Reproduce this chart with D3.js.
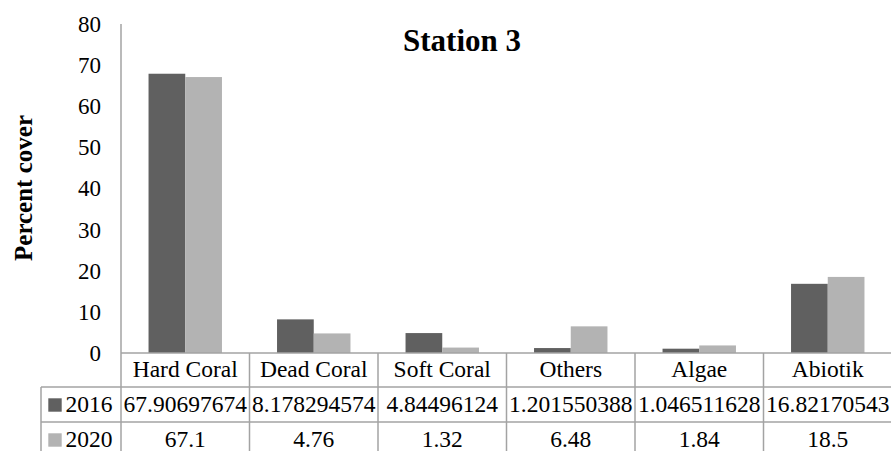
<!DOCTYPE html>
<html>
<head>
<meta charset="utf-8">
<script src="https://cdn.jsdelivr.net/npm/d3@7/dist/d3.min.js"></script>
<style>
  html, body { margin: 0; padding: 0; background: #fff; }
</style>
</head>
<body>
<svg id="chart" width="891" height="451"></svg>
<script>
const categories = ["Hard Coral", "Dead Coral", "Soft Coral", "Others", "Algae", "Abiotik"];
const seriesNames = ["2016", "2020"];
const values2016 = [67.90697674, 8.178294574, 4.84496124, 1.201550388, 1.046511628, 16.82170543];
const values2020 = [67.1, 4.76, 1.32, 6.48, 1.84, 18.5];
const yTicks = [0, 10, 20, 30, 40, 50, 60, 70, 80];
const colors = ["#606060", "#b3b3b3"];
const series = [values2016, values2020];

(function () {
const FONT = '"Liberation Serif"';
const svg = d3.select("#chart");
const W = 891, H = 451;
const pLeft = 121, pRight = 892, pTop = 24, pBottom = 353;
const legendLeft = 41;
const rowH = [353, 387, 422, 457];
const gridColor = "#a3a3a3";
const fontSize = 23.5;

const x = d3.scaleBand().domain(categories).range([pLeft, pRight]).paddingInner(0).paddingOuter(0);
const xs = d3.scaleBand().domain(seriesNames).range([0, x.bandwidth()]).paddingInner(0).paddingOuter(0.75);
const y = d3.scaleLinear().domain([0, 80]).range([pBottom, pTop]);

// bars
seriesNames.forEach((s, si) => {
  svg.append("g").selectAll("rect").data(categories).join("rect")
    .attr("x", c => x(c) + xs(s))
    .attr("y", (c, i) => y(series[si][i]))
    .attr("width", xs.bandwidth())
    .attr("height", (c, i) => y(0) - y(series[si][i]))
    .attr("fill", colors[si]);
});

// y axis
const yAxis = d3.axisLeft(y).tickValues(yTicks).tickSize(0).tickPadding(20).tickFormat(d3.format("d"));
const ya = svg.append("g").attr("transform", `translate(${pLeft},0)`).call(yAxis);
ya.attr("font-family", null).attr("font-size", null);
ya.select(".domain").remove();
ya.selectAll("text").attr("font-size", 23).style("font-family", FONT).attr("fill", "#000");
svg.append("line").attr("x1", pLeft).attr("x2", pLeft).attr("y1", pTop).attr("y2", pBottom)
  .attr("stroke", gridColor).attr("stroke-width", 1.5);

// table grid
const g = svg.append("g").attr("stroke", gridColor).attr("stroke-width", 1.5);
g.append("line").attr("x1", pLeft).attr("x2", W).attr("y1", pBottom).attr("y2", pBottom);
g.append("line").attr("x1", legendLeft).attr("x2", W).attr("y1", rowH[1]).attr("y2", rowH[1]);
g.append("line").attr("x1", legendLeft).attr("x2", W).attr("y1", rowH[2]).attr("y2", rowH[2]);
g.append("line").attr("x1", legendLeft).attr("x2", legendLeft).attr("y1", rowH[1]).attr("y2", H);
g.append("line").attr("x1", pLeft).attr("x2", pLeft).attr("y1", pBottom).attr("y2", H);
categories.forEach(c => {
  const xe = x(c) + x.bandwidth();
  if (xe < W) g.append("line").attr("x1", xe).attr("x2", xe).attr("y1", pBottom).attr("y2", H);
});

// category labels
svg.append("g").selectAll("text").data(categories).join("text")
  .attr("x", c => x(c) + x.bandwidth() / 2)
  .attr("y", 377)
  .attr("text-anchor", "middle")
  .attr("font-size", fontSize)
  .style("font-family", FONT)
  .text(c => c);

// value rows
const rowBase = [412, 447];
series.forEach((vals, si) => {
  svg.append("g").selectAll("text").data(vals).join("text")
    .attr("x", (v, i) => x(categories[i]) + x.bandwidth() / 2)
    .attr("y", rowBase[si])
    .attr("text-anchor", "middle")
    .attr("font-size", fontSize)
    .style("font-family", FONT)
    .text(v => String(v));
  svg.append("rect").attr("x", 48.3).attr("y", rowBase[si] - 13.7).attr("width", 13.4).attr("height", 13.4)
    .attr("fill", colors[si]);
  svg.append("text").attr("x", 65.5).attr("y", rowBase[si]).attr("font-size", fontSize)
    .style("font-family", FONT).text(seriesNames[si]);
});

// title
svg.append("text").attr("x", 462).attr("y", 51).attr("text-anchor", "middle")
  .attr("font-size", 31).attr("font-weight", "bold").style("font-family", FONT).text("Station 3");

// y axis title
svg.append("text").attr("transform", "translate(32,188) rotate(-90)")
  .attr("text-anchor", "middle").attr("font-size", 25).attr("font-weight", "bold")
  .style("font-family", FONT).text("Percent cover");
})();
</script>
</body>
</html>
